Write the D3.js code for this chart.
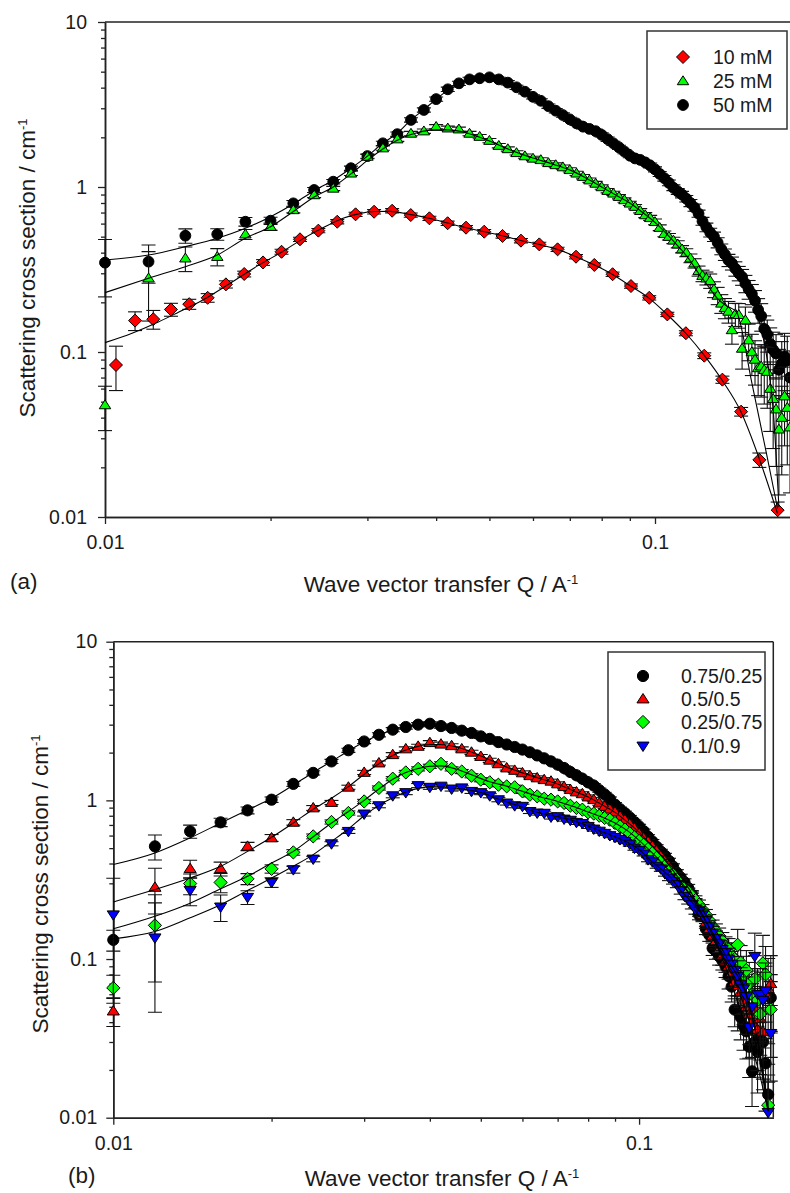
<!DOCTYPE html>
<html>
<head>
<meta charset="utf-8">
<script src="https://d3js.org/d3.v7.min.js"></script>
<style>
  body { margin: 0; background: #fff; }
  svg { display: block; font-family: "Liberation Sans", Arial, sans-serif; }
</style>
</head>
<body>
<svg id="chart" width="790" height="1193"></svg>
<script>
// ---------------------------------------------------------------------------
// Q grid shared by the dense data sets (A^-1)
var qGrid = [
  0.010,0.012,0.014,0.016,0.018,0.020,0.022,0.024,0.026,0.028,
  0.030,0.032,0.034,0.036,0.038,0.040,0.042,0.044,0.046,0.048,
  0.050,0.052,0.054,0.056,0.058,0.060,0.062,0.064,0.066,0.068,
  0.070,0.072,0.074,0.076,0.078,0.080,0.082,0.084,0.086,0.088,
  0.090,0.092,0.094,0.096,0.098,0.100,0.102,0.104,0.106,0.108,
  0.110,0.112,0.114,0.116,0.118,0.120,0.122,0.124,0.126,0.128,
  0.130,0.132,0.134,0.136,0.138,0.140,0.142,0.144,0.146,0.148,
  0.150,0.152,0.154,0.156,0.158,0.160,0.162,0.164,0.166,0.168,
  0.170,0.172,0.174,0.176,0.178
];

// ---- panel (a) -------------------------------------------------------------
// 50 mM (black circles)
var a50 = [
  0.348,0.353,0.507,0.517,0.616,0.625,0.796,0.959,1.077,1.30,
  1.54,1.84,2.09,2.55,2.93,3.41,3.91,4.25,4.49,4.56,
  4.62,4.49,4.29,4.02,3.78,3.52,3.33,3.09,2.90,2.73,
  2.57,2.43,2.32,2.25,2.18,2.07,1.95,1.84,1.74,1.64,
  1.55,1.49,1.46,1.41,1.35,1.28,1.20,1.13,1.06,0.99,
  0.94,0.90,0.85,0.80,0.75,0.69,0.62,0.57,0.53,0.50,
  0.46,0.42,0.39,0.36,0.345,0.32,0.30,0.285,0.26,0.24,
  0.225,0.205,0.18,0.165,0.138,0.128,0.112,0.103,0.098,0.078,
  0.085,0.094,0.089,0.07
];
var a50err = [
  0.38,0.26,0.10,0.08,0.06,0.05,0.04,0.035,0.03,0.03,
  0.03,0.03,0.03,0.03,0.03,0.03,0.03,0.03,0.03,0.03,
  0.03,0.03,0.03,0.03,0.03,0.03,0.03,0.03,0.03,0.03,
  0.03,0.03,0.03,0.03,0.03,0.03,0.03,0.03,0.03,0.03,
  0.03,0.03,0.03,0.03,0.035,0.035,0.035,0.04,0.04,0.04,
  0.04,0.045,0.045,0.05,0.05,0.05,0.055,0.06,0.06,0.065,
  0.07,0.075,0.08,0.085,0.09,0.1,0.1,0.11,0.12,0.13,
  0.14,0.15,0.17,0.19,0.2,0.22,0.25,0.28,0.3,0.33,
  0.36,0.38,0.4,0.45
];
// 25 mM (green triangles)
var a25 = [
  0.0477,0.280,0.370,0.378,0.517,0.575,0.726,0.894,0.98,1.21,
  1.53,1.72,1.95,2.11,2.18,2.32,2.27,2.24,2.11,2.02,
  1.91,1.78,1.70,1.61,1.54,1.49,1.46,1.40,1.36,1.32,
  1.27,1.21,1.155,1.10,1.05,1.00,0.95,0.915,0.873,0.834,
  0.796,0.760,0.718,0.676,0.650,0.615,0.567,0.52,0.50,0.475,
  0.45,0.42,0.40,0.37,0.345,0.31,0.29,0.28,0.27,0.24,
  0.22,0.197,0.185,0.176,0.136,0.17,0.168,0.105,0.156,0.118,
  0.10,0.09,0.08,0.082,0.078,0.076,0.06,0.052,0.045,0.034,
  0.040,0.054,0.046,0.035
];
var a25err = [
  0.3,0.45,0.17,0.12,0.07,0.05,0.04,0.035,0.03,0.03,
  0.03,0.03,0.03,0.03,0.03,0.03,0.03,0.03,0.03,0.03,
  0.03,0.03,0.03,0.03,0.03,0.03,0.03,0.03,0.03,0.03,
  0.03,0.03,0.03,0.03,0.03,0.03,0.03,0.03,0.03,0.03,
  0.03,0.03,0.03,0.035,0.035,0.04,0.04,0.04,0.045,0.045,
  0.05,0.05,0.055,0.06,0.065,0.07,0.08,0.09,0.1,0.11,
  0.12,0.13,0.14,0.15,0.18,0.16,0.17,0.25,0.2,0.25,
  0.28,0.3,0.32,0.35,0.38,0.4,0.45,0.5,0.55,0.6,
  0.55,0.5,0.55,0.6
];
// 10 mM (red diamonds) - own Q points
var q10 = [
  0.01047,0.01134,0.01224,0.01318,0.01423,0.01537,0.01659,0.01791,0.01938,0.02094,
  0.02262,0.02443,0.02644,0.02855,0.03085,0.03327,0.03597,0.03889,0.04197,0.04533,
  0.04892,0.05282,0.05705,0.06161,0.06651,0.07184,0.07756,0.08374,0.09043,0.09762,
  0.1053,0.1138,0.1229,0.1326,0.1434,0.1548,0.1671
];
var a10 = [
  0.0834,0.155,0.158,0.181,0.195,0.213,0.257,0.297,0.349,0.405,
  0.482,0.544,0.616,0.683,0.708,0.718,0.676,0.646,0.603,0.567,
  0.536,0.505,0.473,0.449,0.419,0.378,0.337,0.296,0.251,0.213,
  0.169,0.130,0.095,0.068,0.0435,0.0222,0.0110
];
var a10err = [
  0.3,0.13,0.13,0.09,0.07,0.06,0.05,0.04,0.04,0.035,
  0.03,0.03,0.03,0.03,0.03,0.03,0.03,0.03,0.03,0.03,
  0.03,0.03,0.03,0.03,0.03,0.03,0.03,0.03,0.03,0.03,
  0.03,0.035,0.04,0.05,0.06,0.1,0.12
];
// fitted curves, panel (a): [Q, I]
var fitA10 = [[0.010,0.114],[0.0112,0.130],[0.0125,0.152],[0.0135,0.172],[0.015,0.205],[0.017,0.265],
  [0.019,0.335],[0.021,0.405],[0.023,0.49],[0.025,0.57],[0.027,0.645],[0.029,0.69],[0.031,0.71],
  [0.033,0.712],[0.036,0.68],[0.039,0.645],[0.042,0.605],[0.045,0.57],[0.049,0.535],[0.053,0.505],
  [0.057,0.474],[0.062,0.446],[0.067,0.415],[0.072,0.377],[0.078,0.334],[0.084,0.293],[0.090,0.253],
  [0.097,0.215],[0.105,0.170],[0.114,0.129],[0.123,0.095],[0.133,0.066],[0.143,0.044],[0.155,0.0222],
  [0.167,0.0105]];
var fitA25 = [[0.010,0.229],[0.012,0.28],[0.014,0.329],[0.016,0.387],[0.018,0.489],[0.020,0.575],
  [0.022,0.71],[0.024,0.87],[0.026,1.0],[0.028,1.2],[0.030,1.45],[0.032,1.7],[0.034,1.92],[0.036,2.08],
  [0.038,2.18],[0.040,2.22],[0.042,2.22],[0.044,2.18],[0.046,2.10],[0.048,2.0],[0.050,1.9],[0.055,1.66],
  [0.060,1.50],[0.065,1.38],[0.070,1.27],[0.075,1.13],[0.080,1.0],[0.085,0.89],[0.090,0.80],[0.095,0.70],
  [0.100,0.61],[0.105,0.52],[0.110,0.44],[0.115,0.37],[0.120,0.30],[0.125,0.25],[0.130,0.21],
  [0.135,0.19],[0.1406,0.175],[0.150,0.065],[0.160,0.023],[0.167,0.0113]];
var fitA50 = [[0.010,0.361],[0.012,0.387],[0.014,0.435],[0.016,0.489],[0.018,0.562],[0.020,0.661],
  [0.022,0.789],[0.024,0.95],[0.026,1.10],[0.028,1.30],[0.030,1.54],[0.032,1.84],[0.034,2.12],
  [0.036,2.55],[0.038,2.95],[0.040,3.40],[0.042,3.85],[0.044,4.2],[0.046,4.45],[0.048,4.56],
  [0.050,4.55],[0.052,4.42],[0.055,4.1],[0.060,3.5],[0.065,3.0],[0.070,2.6],[0.075,2.3],[0.080,2.08],
  [0.085,1.80],[0.090,1.57],[0.095,1.43],[0.100,1.27],[0.105,1.08],[0.110,0.93],[0.115,0.81],
  [0.120,0.68],[0.125,0.55],[0.130,0.46],[0.135,0.37],[0.140,0.31],[0.145,0.26],[0.150,0.21],
  [0.155,0.15],[0.160,0.09],[0.164,0.045],[0.168,0.0115]];

// ---- panel (b) -------------------------------------------------------------
var b75 = [
  0.132,0.513,0.638,0.727,0.865,1.01,1.27,1.49,1.76,2.07,
  2.35,2.59,2.79,2.90,3.00,3.04,2.94,2.86,2.75,2.66,
  2.53,2.44,2.33,2.25,2.17,2.09,2.01,1.92,1.84,1.76,
  1.68,1.60,1.51,1.44,1.37,1.30,1.24,1.16,1.09,1.02,
  0.94,0.88,0.83,0.78,0.73,0.686,0.64,0.59,0.55,0.51,
  0.475,0.448,0.415,0.383,0.350,0.326,0.305,0.28,0.255,0.225,
  0.19,0.186,0.155,0.142,0.117,0.112,0.104,0.098,0.090,0.078,
  0.067,0.048,0.047,0.043,0.038,0.035,0.028,0.0196,0.030,0.026,
  0.034,0.030,0.022,0.014,0.057
];
var b75err = [
  0.15,0.18,0.095,0.06,0.05,0.04,0.035,0.03,0.03,0.03,
  0.03,0.03,0.03,0.03,0.03,0.03,0.03,0.03,0.03,0.03,
  0.03,0.03,0.03,0.03,0.03,0.03,0.03,0.03,0.03,0.03,
  0.03,0.03,0.03,0.03,0.03,0.03,0.03,0.03,0.03,0.03,
  0.03,0.03,0.03,0.03,0.03,0.03,0.03,0.03,0.03,0.03,
  0.035,0.035,0.04,0.04,0.045,0.05,0.05,0.055,0.06,0.065,
  0.07,0.075,0.08,0.09,0.1,0.11,0.12,0.13,0.15,0.17,
  0.2,0.22,0.25,0.28,0.3,0.33,0.36,0.4,0.4,0.45,
  0.45,0.5,0.5,0.55,0.4
];
var b50 = [
  0.047,0.283,0.371,0.371,0.513,0.58,0.727,0.896,0.97,1.21,
  1.50,1.72,1.94,2.11,2.19,2.31,2.26,2.21,2.11,2.01,
  1.89,1.79,1.70,1.60,1.545,1.49,1.43,1.385,1.35,1.32,
  1.27,1.22,1.17,1.13,1.10,1.05,1.01,0.96,0.915,0.88,
  0.845,0.795,0.755,0.71,0.665,0.62,0.58,0.55,0.515,0.485,
  0.45,0.42,0.39,0.36,0.335,0.31,0.285,0.265,0.245,0.225,
  0.205,0.19,0.17,0.155,0.14,0.13,0.115,0.105,0.097,0.09,
  0.082,0.072,0.068,0.062,0.055,0.05,0.045,0.04,0.048,0.036,
  0.042,0.035,0.06,0.065,0.07
];
var b50err = [
  0.2,0.32,0.13,0.1,0.06,0.05,0.04,0.035,0.03,0.03,
  0.03,0.03,0.03,0.03,0.03,0.03,0.03,0.03,0.03,0.03,
  0.03,0.03,0.03,0.03,0.03,0.03,0.03,0.03,0.03,0.03,
  0.03,0.03,0.03,0.03,0.03,0.03,0.03,0.03,0.03,0.03,
  0.03,0.03,0.03,0.03,0.03,0.03,0.03,0.03,0.03,0.03,
  0.035,0.035,0.04,0.04,0.045,0.05,0.05,0.055,0.06,0.065,
  0.07,0.075,0.08,0.09,0.1,0.11,0.12,0.13,0.15,0.17,
  0.2,0.22,0.25,0.28,0.3,0.33,0.36,0.4,0.4,0.45,
  0.45,0.5,0.5,0.55,0.5
];
var b25 = [
  0.0658,0.163,0.299,0.304,0.32,0.37,0.47,0.593,0.731,0.833,
  0.985,1.197,1.37,1.50,1.58,1.64,1.70,1.58,1.52,1.43,
  1.35,1.30,1.255,1.225,1.21,1.14,1.085,1.06,1.025,1.01,
  0.985,0.963,0.926,0.896,0.874,0.84,0.825,0.80,0.775,0.755,
  0.72,0.686,0.655,0.62,0.585,0.555,0.525,0.494,0.465,0.435,
  0.41,0.385,0.36,0.34,0.318,0.30,0.28,0.265,0.25,0.235,
  0.22,0.205,0.19,0.175,0.16,0.15,0.14,0.13,0.12,0.115,
  0.105,0.10,0.123,0.095,0.08,0.085,0.07,0.06,0.075,0.055,
  0.045,0.094,0.08,0.012,0.048
];
var b25err = [
  0.2,0.56,0.15,0.14,0.08,0.06,0.04,0.035,0.03,0.03,
  0.03,0.03,0.03,0.03,0.03,0.03,0.03,0.03,0.03,0.03,
  0.03,0.03,0.03,0.03,0.03,0.03,0.03,0.03,0.03,0.03,
  0.03,0.03,0.03,0.03,0.03,0.03,0.03,0.03,0.03,0.03,
  0.03,0.03,0.03,0.03,0.03,0.03,0.03,0.03,0.03,0.03,
  0.035,0.035,0.04,0.04,0.045,0.05,0.05,0.055,0.06,0.065,
  0.07,0.075,0.08,0.09,0.1,0.11,0.12,0.13,0.15,0.17,
  0.2,0.22,0.25,0.28,0.3,0.33,0.36,0.4,0.4,0.45,
  0.45,0.5,0.5,0.55,0.5
];
var b10 = [
  0.19,0.136,0.271,0.213,0.245,0.304,0.366,0.427,0.533,0.638,
  0.821,0.926,1.07,1.12,1.24,1.21,1.23,1.18,1.20,1.14,
  1.12,1.07,1.01,0.963,0.926,0.918,0.852,0.833,0.83,0.786,
  0.79,0.763,0.75,0.727,0.715,0.686,0.66,0.64,0.62,0.60,
  0.585,0.566,0.55,0.53,0.50,0.485,0.46,0.423,0.41,0.385,
  0.37,0.345,0.325,0.309,0.295,0.27,0.249,0.235,0.22,0.205,
  0.2,0.19,0.175,0.16,0.146,0.135,0.125,0.115,0.11,0.10,
  0.093,0.085,0.078,0.069,0.065,0.058,0.037,0.05,0.104,0.06,
  0.06,0.055,0.063,0.0108,0.034
];
var b10err = [
  0.7,0.66,0.2,0.19,0.1,0.07,0.05,0.04,0.03,0.03,
  0.03,0.03,0.03,0.03,0.03,0.03,0.03,0.03,0.03,0.03,
  0.03,0.03,0.03,0.03,0.03,0.03,0.03,0.03,0.03,0.03,
  0.03,0.03,0.03,0.03,0.03,0.03,0.03,0.03,0.03,0.03,
  0.03,0.03,0.03,0.03,0.03,0.03,0.03,0.03,0.03,0.03,
  0.035,0.035,0.04,0.04,0.045,0.05,0.05,0.055,0.06,0.065,
  0.07,0.075,0.08,0.09,0.1,0.11,0.12,0.13,0.15,0.17,
  0.2,0.22,0.25,0.28,0.3,0.33,0.36,0.4,0.4,0.45,
  0.45,0.5,0.5,0.55,0.5
];
// fitted curves, panel (b)
var fitB75 = [[0.010,0.394],[0.012,0.466],[0.014,0.58],[0.016,0.72],[0.018,0.87],[0.020,1.03],
  [0.022,1.25],[0.024,1.50],[0.026,1.76],[0.028,2.05],[0.030,2.33],[0.032,2.58],[0.034,2.78],
  [0.036,2.92],[0.038,3.0],[0.040,3.02],[0.043,2.92],[0.046,2.77],[0.050,2.55],[0.055,2.30],
  [0.060,2.09],[0.065,1.88],[0.070,1.68],[0.075,1.48],[0.080,1.31],[0.085,1.13],[0.090,0.96],
  [0.095,0.81],[0.100,0.69],[0.105,0.58],[0.110,0.48],[0.115,0.40],[0.120,0.33],[0.125,0.27],
  [0.130,0.21],[0.135,0.165],[0.140,0.125],[0.145,0.095],[0.150,0.07],[0.155,0.05],[0.160,0.036],
  [0.165,0.026],[0.170,0.018],[0.176,0.011]];
var fitB50 = [[0.010,0.229],[0.012,0.274],[0.014,0.324],[0.016,0.384],[0.018,0.477],[0.020,0.585],
  [0.022,0.72],[0.024,0.88],[0.026,1.03],[0.028,1.22],[0.030,1.46],[0.032,1.70],[0.034,1.92],
  [0.036,2.08],[0.038,2.19],[0.040,2.25],[0.042,2.25],[0.045,2.17],[0.048,2.02],[0.052,1.80],
  [0.056,1.62],[0.060,1.49],[0.065,1.37],[0.070,1.27],[0.075,1.15],[0.080,1.05],[0.085,0.94],
  [0.090,0.84],[0.095,0.73],[0.100,0.63],[0.105,0.53],[0.110,0.45],[0.115,0.375],[0.120,0.31],
  [0.125,0.255],[0.130,0.205],[0.135,0.165],[0.140,0.13],[0.145,0.1],[0.150,0.08],[0.155,0.062],
  [0.160,0.046],[0.165,0.033],[0.170,0.022],[0.176,0.011]];
var fitB25 = [[0.010,0.155],[0.012,0.186],[0.014,0.225],[0.016,0.277],[0.018,0.332],[0.020,0.403],
  [0.022,0.477],[0.024,0.59],[0.026,0.72],[0.028,0.85],[0.030,1.0],[0.032,1.18],[0.034,1.36],
  [0.036,1.50],[0.038,1.59],[0.040,1.64],[0.042,1.65],[0.045,1.57],[0.048,1.45],[0.052,1.31],
  [0.056,1.23],[0.060,1.14],[0.065,1.05],[0.070,0.985],[0.075,0.915],[0.080,0.845],[0.085,0.785],
  [0.090,0.72],[0.095,0.645],[0.100,0.56],[0.105,0.48],[0.110,0.41],[0.115,0.35],[0.120,0.30],
  [0.125,0.255],[0.130,0.22],[0.135,0.182],[0.140,0.15],[0.145,0.125],[0.150,0.1],[0.155,0.08],
  [0.160,0.06],[0.165,0.04],[0.170,0.025],[0.176,0.011]];
var fitB10 = [[0.010,0.134],[0.012,0.149],[0.014,0.182],[0.016,0.22],[0.018,0.27],[0.020,0.324],
  [0.022,0.384],[0.024,0.455],[0.026,0.551],[0.028,0.66],[0.030,0.80],[0.032,0.93],[0.034,1.04],
  [0.036,1.13],[0.038,1.19],[0.040,1.22],[0.043,1.21],[0.046,1.18],[0.050,1.12],[0.054,1.02],
  [0.058,0.94],[0.062,0.87],[0.066,0.82],[0.070,0.79],[0.075,0.745],[0.080,0.69],[0.085,0.635],
  [0.090,0.59],[0.095,0.545],[0.100,0.49],[0.105,0.42],[0.110,0.37],[0.115,0.325],[0.120,0.27],
  [0.125,0.235],[0.130,0.2],[0.135,0.165],[0.140,0.135],[0.145,0.11],[0.150,0.09],[0.155,0.075],
  [0.160,0.058],[0.165,0.04],[0.170,0.025],[0.176,0.011]];

// axis ticks
var yTicks = [0.01, 0.1, 1, 10];
var yTickLabels = ["0.01", "0.1", "1", "10"];
var yMinor = [0.02,0.03,0.04,0.05,0.06,0.07,0.08,0.09,0.2,0.3,0.4,0.5,0.6,0.7,0.8,0.9,2,3,4,5,6,7,8,9];
var xTicks = [0.01, 0.1];
var xTickLabels = ["0.01", "0.1"];
var xMinor = [0.02,0.03,0.04,0.05,0.06,0.07,0.08,0.09];

var legendA = ["10 mM", "25 mM", "50 mM"];
var legendB = ["0.75/0.25", "0.5/0.5", "0.25/0.75", "0.1/0.9"];

//---------------------------------------------------------------------------------------------------------------------
var svg = d3.select("#chart");
var textColor = "#1a1a1a";

// marker outlines centred on 0,0
function markerPath(shape, s) {
  if (shape === "circle") {
    return "M" + (-s) + ",0A" + s + "," + s + " 0 1,0 " + s + ",0A" + s + "," + s + " 0 1,0 " + (-s) + ",0Z";
  }
  if (shape === "diamond") {
    return "M0," + (-s) + "L" + s + ",0L0," + s + "L" + (-s) + ",0Z";
  }
  var w = s * 1.1, h = s * 0.95;
  if (shape === "up") {
    return "M0," + (-h * 1.05) + "L" + w + "," + (h * 0.75) + "L" + (-w) + "," + (h * 0.75) + "Z";
  }
  return "M0," + (h * 1.05) + "L" + w + "," + (-h * 0.75) + "L" + (-w) + "," + (-h * 0.75) + "Z";
}

function drawPanel(cfg) {
  var x = d3.scaleLog().domain([0.01, 0.18]).range([cfg.left, cfg.right]);
  var y = d3.scaleLog().domain([0.01, 10]).range([cfg.bottom, cfg.top]);

  var clipId = "clip-" + cfg.id;
  svg.append("clipPath").attr("id", clipId).append("rect")
    .attr("x", cfg.left - 10).attr("y", cfg.top)
    .attr("width", cfg.right - cfg.left + 20).attr("height", cfg.bottom - cfg.top);

  var g = svg.append("g");

  // frame top + right
  g.append("line").attr("x1", cfg.left).attr("x2", cfg.right).attr("y1", cfg.top).attr("y2", cfg.top)
    .attr("stroke", "#222").attr("stroke-width", 1.5);
  g.append("line").attr("x1", cfg.right).attr("x2", cfg.right).attr("y1", cfg.top).attr("y2", cfg.bottom)
    .attr("stroke", "#222").attr("stroke-width", 1.5);

  // axes
  var yAxis = d3.axisLeft(y).tickValues(yTicks).tickFormat(function(d, i) { return yTickLabels[i]; })
    .tickSize(7).tickSizeOuter(0).tickPadding(cfg.yPad);
  var yMinorAxis = d3.axisLeft(y).tickValues(yMinor).tickFormat("").tickSize(4).tickSizeOuter(0);
  var xAxis = d3.axisBottom(x).tickValues(xTicks).tickFormat(function(d, i) { return xTickLabels[i]; })
    .tickSize(7).tickSizeOuter(0).tickPadding(11);
  var xMinorAxis = d3.axisBottom(x).tickValues(xMinor).tickFormat("").tickSize(4).tickSizeOuter(0);

  [yMinorAxis, yAxis].forEach(function(ax) {
    g.append("g").attr("transform", "translate(" + cfg.left + ",0)").call(ax);
  });
  [xMinorAxis, xAxis].forEach(function(ax) {
    g.append("g").attr("transform", "translate(0," + cfg.bottom + ")").call(ax);
  });
  g.selectAll(".domain").attr("stroke", "#222").attr("stroke-width", 1.5);
  g.selectAll(".tick line").attr("stroke", "#222").attr("stroke-width", 1.3);
  g.selectAll(".tick text").attr("font-size", "19.5px").attr("fill", textColor)
    .attr("font-family", "Liberation Sans, Arial, sans-serif");

  // series: error bars + markers
  cfg.series.forEach(function(s) {
    var pts = s.v.map(function(v, i) { return { q: s.q[i], v: v, e: s.e[i] }; });
    var sg = g.append("g");
    var eg = sg.append("g").attr("clip-path", "url(#" + clipId + ")")
      .attr("stroke", "#111").attr("stroke-width", 1.1);
    pts.forEach(function(p) {
      var xp = x(p.q), y1 = y(p.v * (1 + p.e)), y2 = y(p.v * (1 - p.e));
      eg.append("line").attr("x1", xp).attr("x2", xp).attr("y1", y1).attr("y2", y2);
      eg.append("line").attr("x1", xp - 7).attr("x2", xp + 7).attr("y1", y1).attr("y2", y1);
      eg.append("line").attr("x1", xp - 7).attr("x2", xp + 7).attr("y1", y2).attr("y2", y2);
    });
    sg.selectAll("path.mk").data(pts).enter().append("path")
      .attr("class", "mk")
      .attr("d", markerPath(s.shape, s.size))
      .attr("transform", function(d) { return "translate(" + x(d.q) + "," + y(d.v) + ")"; })
      .attr("fill", s.fill).attr("stroke", "#000").attr("stroke-width", 1);
  });

  // fitted lines on top
  var line = d3.line().x(function(d) { return x(d[0]); }).y(function(d) { return y(d[1]); })
    .curve(d3.curveMonotoneX);
  cfg.fits.forEach(function(f) {
    g.append("path").datum(f).attr("d", line).attr("fill", "none")
      .attr("stroke", "#000").attr("stroke-width", 1.1)
      .attr("clip-path", "url(#" + clipId + ")");
  });

  // legend
  var L = cfg.legend;
  g.append("rect").attr("x", L.x).attr("y", L.y).attr("width", L.w).attr("height", L.h)
    .attr("fill", "#fff").attr("stroke", "#333").attr("stroke-width", 1.5);
  L.items.forEach(function(it, i) {
    g.append("path").attr("d", markerPath(it.shape, it.size))
      .attr("transform", "translate(" + L.mx + "," + L.rows[i] + ")")
      .attr("fill", it.fill).attr("stroke", "#000").attr("stroke-width", 1);
    g.append("text").attr("x", L.tx).attr("y", L.rows[i] + 7).attr("font-size", "19.5px")
      .attr("fill", textColor).text(it.label);
  });

  // axis titles
  var yt = g.append("text")
    .attr("transform", "translate(" + cfg.ytx + "," + cfg.yty + ") rotate(-90)")
    .attr("text-anchor", "middle").attr("font-size", "22.5px").attr("fill", textColor);
  yt.append("tspan").text("Scattering cross section / cm");
  yt.append("tspan").attr("dy", -8).attr("font-size", "13px").text("-1");

  var xt = g.append("text").attr("x", cfg.xtx).attr("y", cfg.xty)
    .attr("text-anchor", "middle").attr("font-size", "22.5px").attr("fill", textColor);
  xt.append("tspan").text("Wave vector transfer Q / A");
  xt.append("tspan").attr("dy", -8).attr("font-size", "13px").text("-1");

  g.append("text").attr("x", cfg.tagX).attr("y", cfg.tagY).attr("font-size", "22.5px")
    .attr("fill", textColor).text(cfg.tag);
}

drawPanel({
  id: "a", left: 105, right: 795.4, top: 22, bottom: 517, yPad: 11,
  ytx: 35, yty: 268, xtx: 441, xty: 592, tag: "(a)", tagX: 10, tagY: 589,
  series: [
    { q: qGrid, v: a50, e: a50err, shape: "circle", size: 5.4, fill: "#000000" },
    { q: qGrid, v: a25, e: a25err, shape: "up", size: 5.2, fill: "#00ff00" },
    { q: q10, v: a10, e: a10err, shape: "diamond", size: 6.5, fill: "#ff0000" }
  ],
  fits: [fitA10, fitA25, fitA50],
  legend: {
    x: 647, y: 31, w: 140, h: 98, mx: 683, tx: 713, rows: [57, 81, 105],
    items: [
      { label: legendA[0], shape: "diamond", size: 6.5, fill: "#ff0000" },
      { label: legendA[1], shape: "up", size: 5.2, fill: "#00ff00" },
      { label: legendA[2], shape: "circle", size: 5.4, fill: "#000000" }
    ]
  }
});

drawPanel({
  id: "b", left: 113.3, right: 773.3, top: 641.7, bottom: 1117.7, yPad: 9,
  ytx: 48, yty: 884, xtx: 442, xty: 1186, tag: "(b)", tagX: 68, tagY: 1183,
  series: [
    { q: qGrid, v: b75, e: b75err, shape: "circle", size: 5.6, fill: "#000000" },
    { q: qGrid, v: b50, e: b50err, shape: "up", size: 5.5, fill: "#ff0000" },
    { q: qGrid, v: b25, e: b25err, shape: "diamond", size: 6.6, fill: "#00ff00" },
    { q: qGrid, v: b10, e: b10err, shape: "down", size: 5.5, fill: "#0000ff" }
  ],
  fits: [fitB75, fitB50, fitB25, fitB10],
  legend: {
    x: 608, y: 652, w: 157, h: 118, mx: 643, tx: 681, rows: [676, 699, 722, 746],
    items: [
      { label: legendB[0], shape: "circle", size: 5.6, fill: "#000000" },
      { label: legendB[1], shape: "up", size: 5.5, fill: "#ff0000" },
      { label: legendB[2], shape: "diamond", size: 6.6, fill: "#00ff00" },
      { label: legendB[3], shape: "down", size: 5.5, fill: "#0000ff" }
    ]
  }
});
</script>
</body>
</html>
